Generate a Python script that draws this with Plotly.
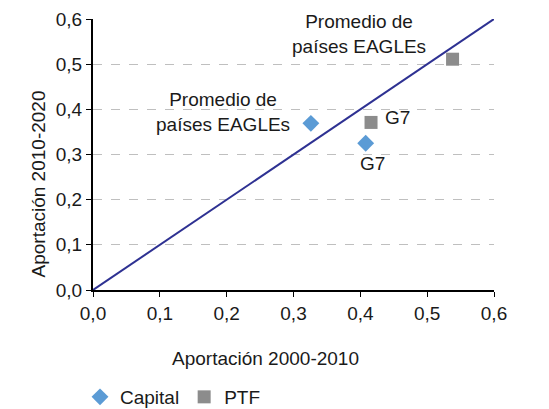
import plotly.graph_objects as go

# Data
capital_x = [0.326, 0.408]
capital_y = [0.369, 0.325]
ptf_x = [0.416, 0.538]
ptf_y = [0.371, 0.511]
ref_line = [0.0, 0.6]
ticks = [0.0, 0.1, 0.2, 0.3, 0.4, 0.5, 0.6]

FONT = "Liberation Sans, Arial, sans-serif"
FS = 19
TXT = "#1a1a1a"

fig = go.Figure()
fig.add_trace(go.Scatter(x=ref_line, y=ref_line, mode="lines",
                         line=dict(color="#2E3192", width=2),
                         showlegend=False, hoverinfo="skip"))
fig.add_trace(go.Scatter(x=capital_x, y=capital_y, mode="markers", name="Capital",
                         marker=dict(symbol="diamond", size=13, color="#5B9BD5")))
fig.add_trace(go.Scatter(x=ptf_x, y=ptf_y, mode="markers", name="PTF",
                         marker=dict(symbol="square", size=13, color="#8C8C8C")))

annots = [
    dict(x=0.194, y=0.394, text="Promedio de<br>países EAGLEs"),
    dict(x=0.398, y=0.567, text="Promedio de<br>países EAGLEs"),
    dict(x=0.418, y=0.279, text="G7"),
    dict(x=0.456, y=0.383, text="G7"),
]
for a in annots:
    a.update(xref="x", yref="y", showarrow=False, font=dict(size=FS, color=TXT, family=FONT))
annots.append(dict(x=(265 - 93) / 401, y=(290 - 358) / 271, xref="paper", yref="paper",
                   showarrow=False, text="Aportación 2000-2010",
                   font=dict(size=FS, color=TXT, family=FONT), yanchor="middle"))
annots.append(dict(x=(25 - 93) / 401, y=(290 - 184) / 271, xref="paper", yref="paper",
                   showarrow=False, text="Aportación 2010-2020", textangle=-90,
                   font=dict(size=FS, color=TXT, family=FONT)))

fig.update_layout(
    width=549, height=409,
    margin=dict(l=93, r=55, t=19, b=119),
    plot_bgcolor="white", paper_bgcolor="white",
    separators=", ",
    font=dict(family=FONT, size=FS, color=TXT),
    annotations=annots,
    legend=dict(orientation="h", xref="container", yref="container",
                x=80 / 549, y=(409 - 397) / 409,
                xanchor="left", yanchor="middle",
                font=dict(size=FS), itemwidth=30, tracegroupgap=0,
                bgcolor="rgba(0,0,0,0)"),
)
fig.update_xaxes(range=[0, 0.6], tickvals=ticks, tickformat=".1f", showgrid=False,
                 showline=True, linecolor="black", linewidth=2, ticks="outside",
                 ticklen=5, tickcolor="black", zeroline=False, automargin=False)
fig.update_yaxes(range=[0, 0.6], tickvals=ticks, tickformat=".1f", showgrid=True,
                 gridcolor="#BFBFBF", griddash="dash", gridwidth=1,
                 showline=True, linecolor="black", linewidth=2, ticks="outside",
                 ticklen=5, tickcolor="black", zeroline=False, automargin=False)

fig.write_html("out.html", config={"displayModeBar": False},
               post_script="document.body.style.margin='0';document.body.style.overflow='hidden';")
